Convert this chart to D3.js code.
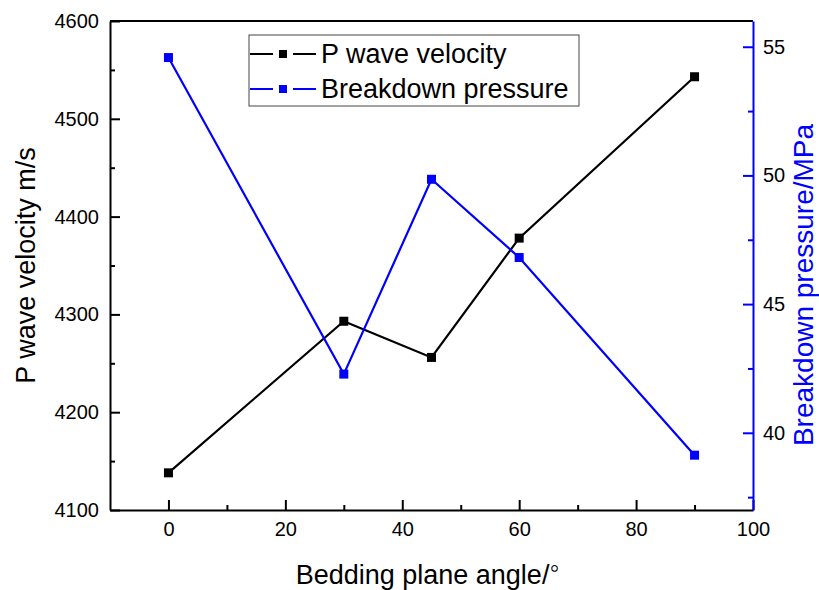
<!DOCTYPE html>
<html>
<head>
<meta charset="utf-8">
<script src="https://cdn.jsdelivr.net/npm/d3@7"></script>
<style>
  body { margin: 0; background: #fff; }
  text { font-family: Arial, "Liberation Sans", sans-serif; }
</style>
</head>
<body>
<script>
// values
var angles = [0, 30, 45, 60, 90];
var velocity = [4138, 4293, 4256, 4378, 4543];
var pressure = [54.58, 42.28, 49.85, 46.81, 39.13];
var seriesNames = ["P wave velocity", "Breakdown pressure"];
var xTicks = [0, 20, 40, 60, 80, 100];
var xMinor = [10, 30, 50, 70, 90];
var leftTicks = [4100, 4200, 4300, 4400, 4500, 4600];
var leftMinor = [4150, 4250, 4350, 4450, 4550];
var rightTicks = [40, 45, 50, 55];
var rightMinor = [37.5, 42.5, 47.5, 52.5];

var width = 819, height = 590;
var plotL = 110, plotR = 753, plotT = 21, plotB = 510;

var svg = d3.select("body").append("svg")
    .attr("width", width)
    .attr("height", height);

var x = d3.scaleLinear().domain([-10, 100]).range([plotL, plotR]);
var yL = d3.scaleLinear().domain([4100, 4600]).range([plotB, plotT]);
var yR = d3.scaleLinear().domain([37, 56]).range([plotB, plotT]);

// top frame line
svg.append("line")
    .attr("x1", plotL).attr("x2", plotR)
    .attr("y1", plotT).attr("y2", plotT)
    .attr("stroke", "#000").attr("stroke-width", 2);

function styleAxis(g, color) {
  g.attr("font-size", 20).attr("font-family", "Arial, 'Liberation Sans', sans-serif");
  g.select(".domain").attr("stroke", color).attr("stroke-width", 2);
  g.selectAll(".tick line").attr("stroke", color).attr("stroke-width", 2);
  g.selectAll(".tick text").attr("fill", "#000");
}

// x axis
var gx = svg.append("g").attr("transform", "translate(0," + plotB + ")")
    .call(d3.axisBottom(x).tickValues(xTicks).tickSizeInner(-10).tickSizeOuter(0).tickPadding(12));
styleAxis(gx, "#000");
var gx2 = svg.append("g").attr("transform", "translate(0," + plotB + ")")
    .call(d3.axisBottom(x).tickValues(xMinor).tickSizeInner(-5).tickSizeOuter(0).tickFormat(""));
styleAxis(gx2, "#000");
gx2.select(".domain").remove();

// left axis
var gl = svg.append("g").attr("transform", "translate(" + plotL + ",0)")
    .call(d3.axisLeft(yL).tickValues(leftTicks).tickFormat(d3.format("d"))
      .tickSizeInner(-10).tickSizeOuter(0).tickPadding(11));
styleAxis(gl, "#000");
var gl2 = svg.append("g").attr("transform", "translate(" + plotL + ",0)")
    .call(d3.axisLeft(yL).tickValues(leftMinor).tickSizeInner(-5).tickSizeOuter(0).tickFormat(""));
styleAxis(gl2, "#000");
gl2.select(".domain").remove();

// right axis
var gr = svg.append("g").attr("transform", "translate(" + plotR + ",0)")
    .call(d3.axisRight(yR).tickValues(rightTicks).tickSizeInner(-10).tickSizeOuter(0).tickPadding(10));
styleAxis(gr, "#0000ff");
var gr2 = svg.append("g").attr("transform", "translate(" + plotR + ",0)")
    .call(d3.axisRight(yR).tickValues(rightMinor).tickSizeInner(-5).tickSizeOuter(0).tickFormat(""));
styleAxis(gr2, "#0000ff");
gr2.select(".domain").remove();

// lines
var lineL = d3.line().x(function(d, i) { return x(angles[i]); }).y(function(d) { return yL(d); });
var lineR = d3.line().x(function(d, i) { return x(angles[i]); }).y(function(d) { return yR(d); });

svg.append("path").datum(velocity)
    .attr("d", lineL).attr("fill", "none")
    .attr("stroke", "#000").attr("stroke-width", 2.2);
svg.append("path").datum(pressure)
    .attr("d", lineR).attr("fill", "none")
    .attr("stroke", "#0000ff").attr("stroke-width", 2.2);

var ms = 9;
svg.selectAll(".mv").data(velocity).enter().append("rect")
    .attr("x", function(d, i) { return x(angles[i]) - ms / 2; })
    .attr("y", function(d) { return yL(d) - ms / 2; })
    .attr("width", ms).attr("height", ms)
    .attr("fill", "#000");
svg.selectAll(".mp").data(pressure).enter().append("rect")
    .attr("x", function(d, i) { return x(angles[i]) - ms / 2; })
    .attr("y", function(d) { return yR(d) - ms / 2; })
    .attr("width", ms).attr("height", ms)
    .attr("fill", "#0000ff");

// axis titles
var xt = svg.append("text")
    .attr("x", (plotL + plotR) / 2 - 4).attr("y", 575)
    .attr("text-anchor", "middle").attr("dy", "0.35em")
    .attr("font-size", "27px").attr("fill", "#000");
xt.append("tspan").text("Bedding plane angle/");
xt.append("tspan").attr("dy", "-0.28em").attr("font-size", "28px").text("\u25E6");

svg.append("text")
    .attr("transform", "translate(26," + ((plotT + plotB) / 2) + ") rotate(-90)")
    .attr("text-anchor", "middle").attr("dy", "0.35em")
    .attr("font-size", "27px").attr("fill", "#000")
    .text("P wave velocity m/s");

svg.append("text")
    .attr("transform", "translate(803,285) rotate(-90)")
    .attr("text-anchor", "middle").attr("dy", "0.35em")
    .attr("font-size", "28px").attr("fill", "#0000ff")
    .text("Breakdown pressure/MPa");

// legend
var legend = svg.append("g");
legend.append("rect")
    .attr("x", 249).attr("y", 35).attr("width", 330).attr("height", 71)
    .attr("fill", "#fff").attr("stroke", "#444").attr("stroke-width", 1);
var legColors = ["#000", "#0000ff"];
var legRows = [54, 89];
seriesNames.forEach(function(name, i) {
  var yy = legRows[i];
  legend.append("line").attr("x1", 250).attr("x2", 273).attr("y1", yy).attr("y2", yy)
      .attr("stroke", legColors[i]).attr("stroke-width", 2);
  legend.append("line").attr("x1", 293).attr("x2", 316).attr("y1", yy).attr("y2", yy)
      .attr("stroke", legColors[i]).attr("stroke-width", 2);
  legend.append("rect").attr("x", 279).attr("y", yy - 4).attr("width", 8).attr("height", 8)
      .attr("fill", legColors[i]);
  legend.append("text").attr("x", 321).attr("y", yy).attr("dy", "0.35em")
      .attr("font-size", "27px").attr("fill", "#000")
      .text(name);
});
</script>
</body>
</html>
